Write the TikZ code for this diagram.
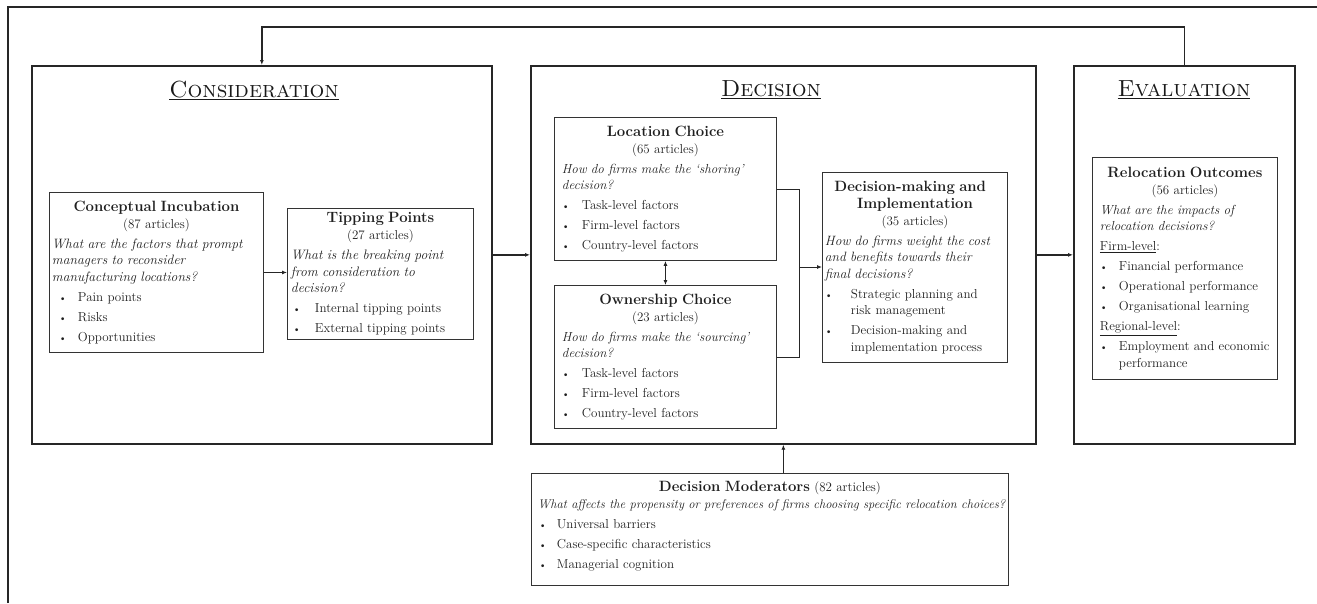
\documentclass[tikz,border=0pt]{standalone}
\usepackage{fontspec}
\usetikzlibrary{arrows.meta,calc}
\newlength{\bxind}
\newlength{\bxoff}
\newcommand{\bxtitle}[1]{{\centering\fontsize{14.9}{16.5}\selectfont\bfseries #1\par}\vspace{-3pt}}
\newcommand{\bxcount}[1]{{\centering(#1 articles)\par}}
\newcommand{\bxq}[2][13]{{\fontsize{#1}{16.5}\selectfont\itshape #2\par}}
\newcommand{\bxitem}[1]{{\hangindent=\bxind\hangafter=1\noindent\makebox[\bxind][l]{\hspace{\bxoff}{\fontsize{10}{10}\selectfont\textbullet}}#1\par}}
\newcommand{\bxlevel}[1]{{\noindent\underline{#1}:\par}}
\tikzset{
  stage/.style={draw=black!85, line width=1.7pt, anchor=north west, inner sep=0pt},
  head/.style={anchor=base, font=\fontsize{23.3}{26}\selectfont, text=black!90},
  ibox/.style={draw=black!80, line width=0.9pt, anchor=north west, align=left,
    inner ysep=4pt, font=\fontsize{13}{16.5}\selectfont, text=black!88,
    execute at begin node={\setlength{\parskip}{3.5pt}}},
  arr/.style={-{Latex[length=5pt,width=4pt]}, line width=0.9pt, draw=black!85},
  darr/.style={{Latex[length=5pt,width=4pt]}-{Latex[length=5pt,width=4pt]}, line width=0.9pt, draw=black!85},
  barr/.style={-{Latex[length=5pt,width=4pt]}, line width=1.5pt, draw=black!85},
  conn/.style={line width=0.9pt, draw=black!85},
}
\begin{document}
\begin{tikzpicture}[x=1pt,y=-1pt]
\useasboundingbox (0,0) rectangle (1317,603);
% outer frame (partially visible)
\draw[line width=1.8pt, black!85] (8,603) -- (8,7) -- (1317,7);

% stage boxes
\node[stage, minimum width=460pt, minimum height=378pt] (cons) at (31,65) {};
\node[stage, minimum width=505pt, minimum height=378pt] (dec) at (530,65) {};
\node[stage, minimum width=221pt, minimum height=378pt] (eval) at (1073,65) {};

\node[head] (hcons) at (254,97) {\underline{\textsc{Consideration}}};
\node[head] (hdec) at (771,96) {\underline{\textsc{Decision}}};
\node[head] (heval) at (1184,96) {\underline{\textsc{Evaluation}}};

% Consideration contents
\node[ibox, inner xsep=2pt, text width=209pt, minimum width=214pt, minimum height=160pt,
  execute at begin node={\setlength{\bxind}{26pt}\setlength{\bxoff}{7pt}}] (ci) at (49,192) {%
  \bxtitle{Conceptual Incubation}
  \bxcount{87}
  \bxq[13.6]{What are the factors that prompt\newline managers to reconsider\newline manufacturing locations?}
  \bxitem{Pain points}
  \bxitem{Risks}
  \bxitem{Opportunities}};

\node[ibox, inner xsep=3pt, text width=179pt, minimum width=186pt, minimum height=124pt,
  execute at begin node={\setlength{\bxind}{24pt}\setlength{\bxoff}{2pt}}] (tp) at (287,208) {%
  \bxtitle{Tipping Points}
  \bxcount{27}
  \bxq[13.7]{What is the breaking point\newline from consideration to\newline decision?}
  \bxitem{Internal tipping points}
  \bxitem{External tipping points}};

% Decision contents
\node[ibox, inner xsep=7pt, text width=207pt, minimum width=222pt, minimum height=143pt,
  execute at begin node={\setlength{\bxind}{20pt}\setlength{\bxoff}{0pt}}] (lc) at (554,117) {%
  \bxtitle{Location Choice}
  \bxcount{65}
  \bxq[13.1]{How do firms make the ‘shoring’\newline decision?}
  \bxitem{Task-level factors}
  \bxitem{Firm-level factors}
  \bxitem{Country-level factors}};

\node[ibox, inner xsep=7pt, text width=207pt, minimum width=222pt, minimum height=143pt,
  execute at begin node={\setlength{\bxind}{20pt}\setlength{\bxoff}{0pt}}] (oc) at (554,285) {%
  \bxtitle{Ownership Choice}
  \bxcount{23}
  \bxq[13.1]{How do firms make the ‘sourcing’\newline decision?}
  \bxitem{Task-level factors}
  \bxitem{Firm-level factors}
  \bxitem{Country-level factors}};

\node[ibox, inner xsep=2pt, text width=180pt, minimum width=185pt, minimum height=190pt,
  execute at begin node={\setlength{\bxind}{26pt}\setlength{\bxoff}{0pt}}] (dmi) at (822,172) {%
  \bxtitle{Decision-making and\newline Implementation}
  \bxcount{35}
  \bxq[13.5]{How do firms weight the cost\newline and benefits towards their\newline final decisions?}
  \bxitem{Strategic planning and\newline risk management}
  \bxitem{Decision-making and\newline implementation process}};

% Evaluation contents
\node[ibox, inner xsep=7pt, text width=170pt, minimum width=185pt, minimum height=222pt,
  execute at begin node={\setlength{\bxind}{19pt}\setlength{\bxoff}{0pt}}] (ro) at (1092,157) {%
  \bxtitle{Relocation Outcomes}
  \bxcount{56}
  \bxq[13.1]{What are the impacts of\newline relocation decisions?}
  \bxlevel{Firm-level}
  \bxitem{Financial performance}
  \bxitem{Operational performance}
  \bxitem{Organisational learning}
  \bxlevel{Regional-level}
  \bxitem{Employment and economic\newline performance}};

% Decision moderators
\node[ibox, inner xsep=6pt, text width=464pt, minimum width=477pt, minimum height=112pt,
  execute at begin node={\setlength{\bxind}{19pt}\setlength{\bxoff}{1pt}}] (dm) at (531,473) {%
  {\centering{\fontsize{14.9}{16.5}\selectfont\bfseries Decision Moderators} (82 articles)\par}\vspace{-3pt}
  \bxq[12.6]{\mbox{What affects the propensity or preferences of firms choosing specific relocation choices?}}
  \bxitem{Universal barriers}
  \bxitem{Case-specific characteristics}
  \bxitem{Managerial cognition}
  \vspace{6pt}};

% connectors
\coordinate (fbtop) at (1183,27);
\draw[barr] (eval.north) -- (eval.north |- fbtop) -| (cons.north);
\draw[barr] (cons.east) -- (dec.west);
\draw[barr] (dec.east) -- (eval.west);
\draw[arr] (ci.east) -- (ci.east -| tp.west);
\draw[darr] (lc.south) -- (oc.north);
\coordinate (brk) at (799,267);
\draw[conn] (lc.east) -| (brk) |- (oc.east);
\draw[arr] (brk) -- (brk -| dmi.west);
\draw[arr] (dm.north -| dec.south) -- (dec.south);
\end{tikzpicture}
\end{document}
